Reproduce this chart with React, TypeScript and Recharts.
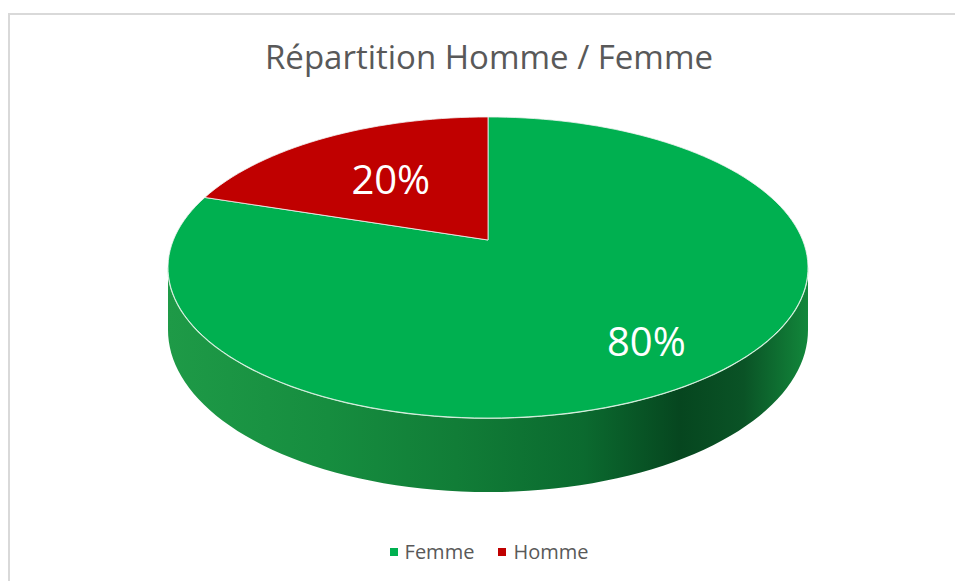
import React from 'react';
import { PieChart, Pie, Legend, Cell } from 'recharts';

// chart data
const categories = ['Femme', 'Homme'];
const shares = [80, 20];
const sliceColors = ['#00B050', '#C00000'];
const chartTitle = 'Répartition Homme / Femme';

const data = categories.map((name, i) => ({ name, value: shares[i] }));

// fake 3D projection (perspective tilt of a flat pie)
const TILT = 0.4625;
const PERSP = 0.1827;
const DEPTH = 0.1923;
const VISIBLE_FROM = 180 + (Math.asin(PERSP) * 180) / Math.PI;
const VISIBLE_TO = 360 - (Math.asin(PERSP) * 180) / Math.PI;

const project = (cx: number, cy: number, r: number, deg: number, f = 1, drop = 0) => {
  const t = (deg * Math.PI) / 180;
  const u = f * Math.cos(t);
  const v = f * Math.sin(t);
  const w = 1 + PERSP * v;
  return [cx + (r * u) / w, cy - (r * TILT * v) / w + (drop * r * DEPTH) / w];
};

const arcPoints = (cx: number, cy: number, r: number, a: number, b: number, drop = 0) => {
  const pts: number[][] = [];
  const steps = Math.max(2, Math.ceil(Math.abs(b - a) / 2));
  for (let i = 0; i <= steps; i++) {
    pts.push(project(cx, cy, r, a + ((b - a) * i) / steps, 1, drop));
  }
  return pts;
};

const toPath = (pts: number[][]) =>
  pts.map((p, i) => `${i === 0 ? 'M' : 'L'}${p[0].toFixed(2)},${p[1].toFixed(2)}`).join(' ');

const TopFace = (props: any) => {
  const { cx, cy, outerRadius, startAngle, endAngle, fill } = props;
  const pts = [[cx, cy], ...arcPoints(cx, cy, outerRadius, startAngle, endAngle)];
  return <path d={toPath(pts) + ' Z'} fill={fill} stroke="#f2f2f2" strokeOpacity={0.8} strokeWidth={1} />;
};

const visibleRanges = (startAngle: number, endAngle: number) => {
  const lo = Math.min(startAngle, endAngle);
  const hi = Math.max(startAngle, endAngle);
  const out: number[][] = [];
  for (let k = -2; k <= 2; k++) {
    const a = Math.max(lo, VISIBLE_FROM + k * 360);
    const b = Math.min(hi, VISIBLE_TO + k * 360);
    if (b > a) out.push([a, b]);
  }
  return out;
};

const SideWall = (props: any) => {
  const { cx, cy, outerRadius, startAngle, endAngle, index } = props;
  return (
    <g>
      {visibleRanges(startAngle, endAngle).map(([a, b], i) => {
        const top = arcPoints(cx, cy, outerRadius, a, b);
        const bottom = arcPoints(cx, cy, outerRadius, b, a, 1);
        return (
          <g key={i}>
            <path d={toPath([...top, ...bottom]) + ' Z'} fill={`url(#wall-${index})`} />
            <path d={toPath(top)} fill="none" stroke="#c9f3d4" strokeWidth={1.6} />
          </g>
        );
      })}
    </g>
  );
};

const labelFactor = (mid: number) => (Math.sin((mid * Math.PI) / 180) > 0 ? 0.57 : 0.76);

const renderLabel = (props: any) => {
  const { cx, cy, outerRadius, midAngle, percent } = props;
  const [x, y] = project(cx, cy, outerRadius, midAngle, labelFactor(midAngle));
  return (
    <text
      x={x}
      y={y}
      fill="#ffffff"
      fontSize={40}
      fontFamily="'Open Sans', sans-serif"
      textAnchor="middle"
      dominantBaseline="central"
    >
      {`${Math.round(percent * 100)}%`}
    </text>
  );
};

const renderLegend = (props: any) => {
  const payload = (props.payload || []).filter((e: any) => e.type !== 'none');
  return (
    <div style={{ display: 'flex', justifyContent: 'center', fontFamily: "'Open Sans', sans-serif" }}>
      {payload.map((entry: any) => (
        <div key={entry.value} style={{ display: 'flex', alignItems: 'center', margin: '0 12px' }}>
          <span style={{ width: 8, height: 8, background: entry.color, marginRight: 7 }} />
          <span style={{ color: '#595959', fontSize: 20 }}>{entry.value}</span>
        </div>
      ))}
    </div>
  );
};

export default function App() {
  return (
    <div style={{ position: 'absolute', left: 0, top: 0, width: 955, height: 581, background: '#fff' }}>
      <div
        style={{
          position: 'absolute',
          left: 8,
          top: 13,
          width: 960,
          height: 600,
          borderLeft: '2px solid #d9d9d9',
          borderTop: '2px solid #d9d9d9',
        }}
      />
      <div
        style={{
          position: 'absolute',
          left: 0,
          top: 34,
          width: 978,
          textAlign: 'center',
          fontFamily: "'Open Sans', sans-serif",
          fontSize: 33,
          color: '#595959',
        }}
      >
        {chartTitle}
      </div>
      <PieChart
        width={955}
        height={581}
        margin={{ top: 0, right: 0, bottom: 0, left: 0 }}
        style={{ position: 'absolute', left: 0, top: 0 }}
      >
        <defs>
          {sliceColors.map((c, i) => (
            <linearGradient key={i} id={`wall-${i}`} x1="0" y1="0" x2="1" y2="0">
              <stop offset="0%" stopColor={i === 0 ? '#1e9a47' : '#a00000'} />
              <stop offset="25%" stopColor={i === 0 ? '#168d3f' : '#900000'} />
              <stop offset="45%" stopColor={i === 0 ? '#117d37' : '#800000'} />
              <stop offset="65%" stopColor={i === 0 ? '#0b6a2f' : '#700000'} />
              <stop offset="80%" stopColor={i === 0 ? '#06461f' : '#500000'} />
              <stop offset="90%" stopColor={i === 0 ? '#0a5326' : '#600000'} />
              <stop offset="100%" stopColor={i === 0 ? '#12873b' : '#900000'} />
            </linearGradient>
          ))}
        </defs>
        <Pie
          data={data}
          dataKey="value"
          nameKey="name"
          cx={488}
          cy={240}
          outerRadius={314.6}
          startAngle={90}
          endAngle={-270}
          stroke="none"
          legendType="none"
          isAnimationActive={false}
          shape={SideWall}
        >
          {data.map((d, i) => (
            <Cell key={d.name} fill={sliceColors[i]} />
          ))}
        </Pie>
        <Pie
          data={data}
          dataKey="value"
          nameKey="name"
          cx={488}
          cy={240}
          outerRadius={314.6}
          startAngle={90}
          endAngle={-270}
          stroke="none"
          legendType="square"
          isAnimationActive={false}
          shape={TopFace}
          label={renderLabel}
          labelLine={false}
        >
          {data.map((d, i) => (
            <Cell key={d.name} fill={sliceColors[i]} />
          ))}
        </Pie>
        <Legend
          verticalAlign="bottom"
          align="center"
          content={renderLegend}
          wrapperStyle={{ bottom: 16, left: 0, width: 978 }}
        />
      </PieChart>
    </div>
  );
}
